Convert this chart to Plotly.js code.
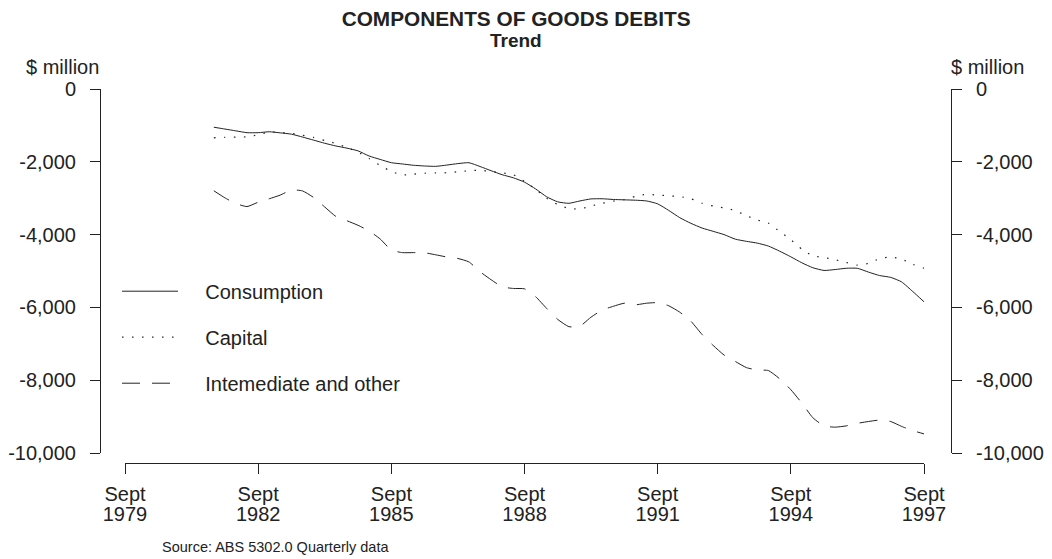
<!DOCTYPE html>
<html><head><meta charset="utf-8">
<script src="https://cdn.plot.ly/plotly-3.0.1.min.js"></script>
<style>html,body{margin:0;padding:0;background:#fff}#chart{width:1052px;height:559px}</style>
</head><body><div id="chart"></div>
<script>
const quarters = [
'1981-09','1981-12',
'1982-03','1982-06','1982-09','1982-12',
'1983-03','1983-06','1983-09','1983-12',
'1984-03','1984-06','1984-09','1984-12',
'1985-03','1985-06','1985-09','1985-12',
'1986-03','1986-06','1986-09','1986-12',
'1987-03','1987-06','1987-09','1987-12',
'1988-03','1988-06','1988-09','1988-12',
'1989-03','1989-06','1989-09','1989-12',
'1990-03','1990-06','1990-09','1990-12',
'1991-03','1991-06','1991-09','1991-12',
'1992-03','1992-06','1992-09','1992-12',
'1993-03','1993-06','1993-09','1993-12',
'1994-03','1994-06','1994-09','1994-12',
'1995-03','1995-06','1995-09','1995-12',
'1996-03','1996-06','1996-09','1996-12',
'1997-03','1997-06','1997-09'];

const consumption = [
-1050,-1100,-1150,-1200,-1200,-1175,-1205,-1240,-1320,-1405,
-1490,-1565,-1625,-1700,-1840,-1935,-2025,-2060,-2095,-2115,
-2125,-2090,-2050,-2025,-2130,-2245,-2355,-2440,-2560,-2745,
-2960,-3100,-3140,-3075,-3020,-3015,-3035,-3045,-3055,-3075,
-3155,-3335,-3535,-3690,-3820,-3910,-4000,-4125,-4185,-4235,
-4315,-4455,-4610,-4775,-4910,-4985,-4960,-4925,-4925,-5030,
-5125,-5175,-5300,-5565,-5845];

const capital = [
-1340,-1330,-1320,-1315,-1260,-1180,-1195,-1220,-1270,-1330,
-1415,-1495,-1610,-1735,-1910,-2100,-2265,-2360,-2340,-2315,
-2305,-2300,-2275,-2245,-2235,-2265,-2305,-2355,-2540,-2755,
-3000,-3175,-3285,-3295,-3215,-3140,-3080,-3040,-2950,-2895,
-2915,-2935,-2955,-3015,-3140,-3215,-3265,-3340,-3480,-3600,
-3685,-3915,-4140,-4405,-4580,-4630,-4690,-4765,-4840,-4790,
-4660,-4615,-4675,-4815,-4925];

const intermediate = [
-2795,-2990,-3145,-3230,-3110,-3015,-2915,-2775,-2800,-2980,
-3240,-3500,-3620,-3745,-3900,-4120,-4425,-4495,-4495,-4500,
-4555,-4615,-4655,-4750,-5020,-5240,-5435,-5480,-5490,-5705,
-6025,-6330,-6530,-6515,-6270,-6075,-5970,-5885,-5930,-5885,
-5870,-5955,-6130,-6380,-6745,-7045,-7310,-7485,-7655,-7720,
-7735,-7960,-8260,-8630,-9030,-9255,-9290,-9255,-9185,-9135,
-9095,-9135,-9270,-9385,-9475];

const seriesNames = ['Consumption', 'Capital', 'Intemediate and other'];
const yTickValues = [0, -2000, -4000, -6000, -8000, -10000];
const yTickLabels = ['0', '-2,000', '-4,000', '-6,000', '-8,000', '-10,000'];
const xTickValues = ['1979-09', '1982-09', '1985-09', '1988-09', '1991-09', '1994-09', '1997-09'];
const xTickMonthLabels = ['Sept', 'Sept', 'Sept', 'Sept', 'Sept', 'Sept', 'Sept'];
const xTickYearLabels = ['1979', '1982', '1985', '1988', '1991', '1994', '1997'];
const xRange = ['1979-09', '1997-09'];
const yRange = [-10000, 0];

const FONT = 'Liberation Sans, Arial, Helvetica, sans-serif';
const INK = '#222';
const pad = '\u00a0\u00a0\u00a0\u00a0';

const lineBase = {shape: 'spline', smoothing: 0.5, color: INK, width: 1};
const traces = [
  {x: quarters, y: consumption, name: pad + seriesNames[0], legendgroup: 'a',
   mode: 'lines', line: Object.assign({}, lineBase, {dash: 'solid'})},
  {x: quarters, y: capital, name: pad + seriesNames[1], legendgroup: 'b',
   mode: 'lines', line: Object.assign({}, lineBase, {dash: '1.5px,8.5px', width: 1.2})},
  {x: quarters, y: intermediate, name: pad + seriesNames[2], legendgroup: 'c',
   mode: 'lines', line: Object.assign({}, lineBase, {dash: '18px,12px'})},
  // placeholders so the right-hand y axis and the year-label x axis are drawn
  {x: [quarters[0]], y: [null], xaxis: 'x', yaxis: 'y2', mode: 'lines', showlegend: false, hoverinfo: 'skip'},
  {x: [quarters[0]], y: [null], xaxis: 'x2', yaxis: 'y', mode: 'lines', showlegend: false, hoverinfo: 'skip'}
];

const yAxisCommon = {
  range: yRange, tickmode: 'array', tickvals: yTickValues, ticktext: yTickLabels,
  showgrid: false, zeroline: false, showline: true, linecolor: INK, linewidth: 1,
  ticks: 'outside', ticklen: 10, tickcolor: INK, tickwidth: 1,
  tickfont: {family: FONT, size: 20, color: INK}, ticklabelstandoff: 10,
  fixedrange: true
};
const xDomain = [25/851, 824/851];

const layout = {
  width: 1052, height: 559,
  margin: {l: 100, r: 101, t: 89, b: 96, pad: 0},
  paper_bgcolor: '#fff', plot_bgcolor: '#fff',
  showlegend: true,
  legend: {x: 0.02, xanchor: 'left', y: 0.5115, yanchor: 'top', xref: 'paper', yref: 'paper',
    bgcolor: 'rgba(0,0,0,0)', borderwidth: 0, itemwidth: 56, tracegroupgap: 17,
    font: {family: FONT, size: 20, color: INK}},
  title: {text: 'COMPONENTS OF GOODS DEBITS', xref: 'paper', x: 0.489, xanchor: 'center',
    yref: 'container', y: 1 - 19/559, yanchor: 'middle',
    font: {family: FONT, size: 20.8, weight: 700, color: INK}},
  xaxis: {
    type: 'date', range: xRange, domain: xDomain, anchor: 'free', position: 0,
    tickmode: 'array', tickvals: xTickValues, ticktext: xTickMonthLabels,
    showgrid: false, zeroline: false, showline: true, linecolor: INK, linewidth: 1,
    ticks: 'outside', ticklen: 10, tickcolor: INK, tickwidth: 1, ticklabelstandoff: 3,
    tickfont: {family: FONT, size: 20, color: INK}, fixedrange: true
  },
  xaxis2: {
    type: 'date', range: xRange, overlaying: 'x', anchor: 'free', position: 0, side: 'bottom',
    tickmode: 'array', tickvals: xTickValues, ticktext: xTickYearLabels,
    showgrid: false, zeroline: false, showline: false, ticks: '', ticklabelstandoff: 37,
    tickfont: {family: FONT, size: 20, color: INK}, fixedrange: true
  },
  yaxis: Object.assign({}, yAxisCommon, {domain: [10/374, 1], anchor: 'free', position: 0, side: 'left'}),
  yaxis2: Object.assign({}, yAxisCommon, {overlaying: 'y', anchor: 'free', position: 1, side: 'right'}),
  annotations: [
    {text: 'Trend', xref: 'paper', x: 0.489, xanchor: 'center', yref: 'paper', y: (463-41)/374, yanchor: 'middle',
     showarrow: false, font: {family: FONT, size: 19, weight: 700, color: INK}},
    {text: '$ million', xref: 'paper', x: 0, xanchor: 'right', yref: 'paper', y: (463-66.7)/374, yanchor: 'middle',
     showarrow: false, xshift: 1, font: {family: FONT, size: 20, color: INK}},
    {text: '$ million', xref: 'paper', x: 1, xanchor: 'left', yref: 'paper', y: (463-66.7)/374, yanchor: 'middle',
     showarrow: false, xshift: -2, font: {family: FONT, size: 20, color: INK}},
    {text: 'Source: ABS 5302.0 Quarterly data', xref: 'paper', x: (160-100)/851, xanchor: 'left', yref: 'paper', y: (463-547)/374, yanchor: 'middle',
     showarrow: false, font: {family: FONT, size: 14.5, color: INK}}
  ]
};

Plotly.newPlot('chart', traces, layout, {displayModeBar: false, staticPlot: true});
</script>
</body></html>
